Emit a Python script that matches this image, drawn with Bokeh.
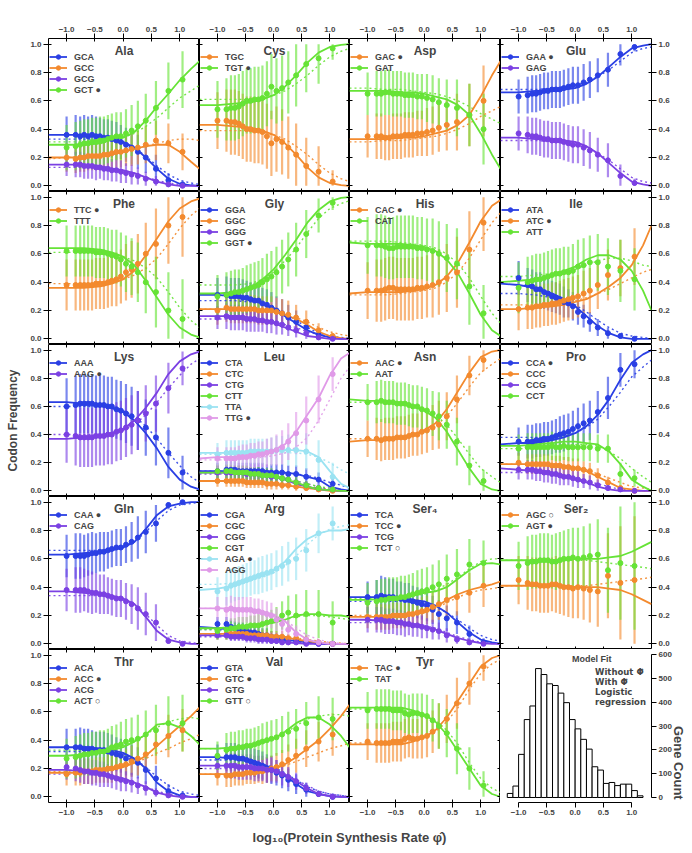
import math
from bokeh.plotting import figure
from bokeh.models import (Range1d, LinearAxis, FixedTicker, PrintfTickFormatter,
                          Legend, LegendItem, Label)
from bokeh.layouts import gridplot, column
from bokeh.embed import file_html
from bokeh.resources import INLINE

FONT = "Liberation Sans"
BLUE, ORANGE, PURPLE, GREEN = "#2a3fe4", "#f38a2e", "#7b40e3", "#66e336"
CYAN, PINK = "#9be3f2", "#e09ae8"

# ---------------- data ----------------
BIN_X = [-1.0, -0.84, -0.76, -0.69, -0.62, -0.55, -0.48, -0.41, -0.34, -0.27,
         -0.2, -0.12, -0.04, 0.05, 0.15, 0.26, 0.4, 0.58, 0.8, 1.05]
FIT_X = [-1.32, -1.0, -0.7, -0.4, -0.2, 0.0, 0.2, 0.4, 0.6, 0.8, 1.0, 1.2, 1.35]

X_TICKS = [-1.0, -0.5, 0.0, 0.5, 1.0]
X_TICK_LABELS = ["\u22121.0", "\u22120.5", "0.0", "0.5", "1.0"]
Y_TICKS = [0.0, 0.2, 0.4, 0.6, 0.8, 1.0]

# Ala
ALA_CODONS = ["GCA", "GCC", "GCG", "GCT \u25cf"]
ALA_FIT = [[0.36,0.36,0.36,0.35,0.33,0.31,0.27,0.2,0.12,0.05,0.015,0.004,0.0],
           [0.2,0.2,0.2,0.21,0.22,0.24,0.26,0.28,0.29,0.29,0.24,0.17,0.12],
           [0.15,0.15,0.15,0.14,0.12,0.11,0.09,0.06,0.03,0.01,0.0,0.0,0.0],
           [0.29,0.29,0.29,0.3,0.33,0.34,0.38,0.46,0.56,0.65,0.745,0.826,0.88]]
ALA_LOGIT = [[0.33,0.33,0.33,0.33,0.32,0.3,0.27,0.21,0.14,0.08,0.04,0.02,0.01],
             [0.19,0.2,0.21,0.22,0.23,0.24,0.26,0.28,0.3,0.32,0.33,0.33,0.32],
             [0.13,0.13,0.13,0.13,0.12,0.11,0.09,0.06,0.04,0.02,0.01,0.005,0.0],
             [0.31,0.31,0.31,0.32,0.33,0.34,0.37,0.42,0.48,0.55,0.62,0.67,0.71]]
ALA_PTS = [[0.36,0.36,0.35,0.36,0.35,0.36,0.35,0.35,0.34,0.34,0.33,0.32,0.31,0.29,0.27,0.24,0.2,0.12,0.04,0.01],
           [0.2,0.19,0.2,0.2,0.21,0.21,0.21,0.21,0.22,0.22,0.23,0.24,0.24,0.25,0.26,0.27,0.29,0.32,0.3,0.24],
           [0.15,0.15,0.15,0.14,0.14,0.14,0.13,0.13,0.12,0.12,0.11,0.11,0.1,0.09,0.08,0.07,0.05,0.03,0.01,0.0],
           [0.27,0.28,0.29,0.3,0.3,0.31,0.31,0.32,0.32,0.33,0.34,0.35,0.35,0.37,0.39,0.42,0.46,0.55,0.67,0.75]]
ALA_ERR = [[0.13,0.14,0.14,0.14,0.14,0.14,0.14,0.13,0.13,0.13,0.13,0.13,0.12,0.12,0.12,0.12,0.11,0.1,0.05,0.02],
           [0.1,0.1,0.1,0.1,0.1,0.1,0.1,0.1,0.1,0.1,0.11,0.11,0.11,0.11,0.12,0.12,0.13,0.14,0.14,0.13],
           [0.08,0.09,0.09,0.09,0.09,0.09,0.09,0.08,0.08,0.08,0.08,0.08,0.08,0.07,0.07,0.06,0.05,0.04,0.02,0.01],
           [0.16,0.17,0.17,0.17,0.17,0.17,0.17,0.17,0.17,0.17,0.17,0.17,0.17,0.17,0.18,0.18,0.19,0.19,0.2,0.2]]

# Cys
CYS_CODONS = ["TGC", "TGT \u25cf"]
CYS_FIT = [[0.43,0.43,0.42,0.41,0.39,0.36,0.3,0.22,0.13,0.06,0.02,0.005,0.0],
           [0.57,0.57,0.58,0.59,0.61,0.64,0.7,0.78,0.87,0.94,0.98,0.995,1.0]]
CYS_LOGIT = [[0.39,0.39,0.39,0.39,0.38,0.36,0.33,0.28,0.22,0.15,0.09,0.05,0.03],
             [0.61,0.61,0.61,0.61,0.62,0.64,0.67,0.72,0.78,0.85,0.91,0.95,0.97]]
CYS_PTS = [[0.46,0.46,0.45,0.45,0.44,0.42,0.4,0.4,0.39,0.39,0.38,0.35,0.3,0.33,0.31,0.27,0.22,0.14,0.1,0.03],
           [0.54,0.54,0.55,0.55,0.56,0.58,0.6,0.6,0.61,0.61,0.62,0.65,0.7,0.67,0.69,0.73,0.78,0.86,0.9,0.97]]
CYS_ERR = [[0.2,0.22,0.23,0.23,0.23,0.23,0.23,0.23,0.23,0.23,0.23,0.23,0.23,0.23,0.23,0.22,0.22,0.2,0.18,0.08]] * 2

# Asp
ASP_CODONS = ["GAC \u25cf", "GAT"]
ASP_FIT = [[0.33,0.33,0.33,0.34,0.34,0.35,0.37,0.39,0.43,0.5,0.63,0.78,0.88],
           [0.67,0.67,0.67,0.66,0.66,0.65,0.63,0.61,0.57,0.5,0.37,0.22,0.12]]
ASP_LOGIT = [[0.31,0.31,0.32,0.32,0.33,0.34,0.35,0.37,0.4,0.44,0.49,0.53,0.56],
             [0.69,0.69,0.68,0.68,0.67,0.66,0.65,0.63,0.6,0.56,0.51,0.47,0.44]]
ASP_PTS = [[0.35,0.35,0.35,0.34,0.34,0.35,0.35,0.35,0.36,0.36,0.36,0.37,0.37,0.38,0.39,0.41,0.43,0.45,0.5,0.6],
           [0.65,0.65,0.65,0.66,0.66,0.65,0.65,0.65,0.64,0.64,0.64,0.63,0.63,0.62,0.61,0.59,0.57,0.55,0.5,0.4]]
ASP_ERR = [[0.15,0.16,0.16,0.16,0.16,0.16,0.16,0.16,0.16,0.16,0.16,0.16,0.16,0.17,0.17,0.17,0.18,0.2,0.22,0.25]] * 2

# Glu
GLU_CODONS = ["GAA \u25cf", "GAG"]
GLU_FIT = [[0.66,0.66,0.67,0.67,0.68,0.69,0.72,0.77,0.84,0.91,0.97,0.99,1.0],
           [0.34,0.34,0.33,0.33,0.32,0.31,0.28,0.23,0.16,0.09,0.03,0.01,0.0]]
GLU_LOGIT = [[0.68,0.68,0.68,0.69,0.7,0.71,0.73,0.77,0.82,0.88,0.94,0.97,0.98],
             [0.32,0.32,0.32,0.31,0.3,0.29,0.27,0.23,0.18,0.12,0.06,0.03,0.02]]
GLU_PTS = [[0.63,0.64,0.65,0.65,0.66,0.67,0.67,0.68,0.68,0.68,0.69,0.7,0.71,0.71,0.73,0.75,0.78,0.82,0.93,0.98],
           [0.37,0.36,0.35,0.35,0.34,0.33,0.33,0.32,0.32,0.32,0.31,0.3,0.29,0.29,0.27,0.25,0.22,0.18,0.07,0.02]]
GLU_ERR = [[0.12,0.13,0.13,0.13,0.13,0.13,0.13,0.13,0.13,0.13,0.13,0.13,0.13,0.13,0.13,0.13,0.12,0.12,0.08,0.03]] * 2

# Phe
PHE_CODONS = ["TTC \u25cf", "TTT"]
PHE_FIT = [[0.36,0.36,0.36,0.37,0.39,0.42,0.48,0.59,0.71,0.83,0.92,0.97,0.99],
           [0.64,0.64,0.64,0.63,0.61,0.58,0.52,0.41,0.29,0.17,0.08,0.03,0.01]]
PHE_LOGIT = [[0.39,0.39,0.39,0.39,0.4,0.42,0.45,0.5,0.57,0.67,0.78,0.87,0.92],
             [0.61,0.61,0.61,0.61,0.6,0.58,0.55,0.5,0.43,0.33,0.22,0.13,0.08]]
PHE_PTS = [[0.38,0.38,0.38,0.38,0.38,0.38,0.39,0.39,0.39,0.4,0.41,0.42,0.44,0.47,0.49,0.53,0.6,0.67,0.8,0.86],
           [0.62,0.62,0.62,0.62,0.62,0.62,0.61,0.61,0.61,0.6,0.59,0.58,0.56,0.53,0.51,0.47,0.4,0.33,0.2,0.14]]
PHE_ERR = [[0.18,0.18,0.18,0.18,0.18,0.18,0.18,0.18,0.18,0.18,0.18,0.19,0.19,0.2,0.2,0.21,0.22,0.25,0.27,0.28]] * 2

# Gly
GLY_CODONS = ["GGA", "GGC", "GGG", "GGT \u25cf"]
GLY_FIT = [[0.31,0.31,0.3,0.28,0.25,0.21,0.16,0.11,0.06,0.03,0.01,0.0,0.0],
           [0.21,0.21,0.21,0.21,0.2,0.19,0.17,0.14,0.1,0.05,0.02,0.005,0.0],
           [0.16,0.16,0.16,0.15,0.13,0.11,0.08,0.05,0.02,0.01,0.0,0.0,0.0],
           [0.32,0.32,0.33,0.36,0.42,0.49,0.59,0.7,0.82,0.91,0.97,0.995,1.0]]
GLY_LOGIT = [[0.27,0.27,0.27,0.26,0.25,0.22,0.18,0.13,0.08,0.04,0.02,0.01,0.005],
             [0.21,0.21,0.21,0.21,0.2,0.19,0.17,0.15,0.12,0.08,0.05,0.03,0.02],
             [0.14,0.14,0.14,0.14,0.13,0.12,0.1,0.08,0.05,0.03,0.01,0.005,0.0],
             [0.38,0.38,0.38,0.39,0.42,0.47,0.55,0.64,0.75,0.85,0.92,0.955,0.975]]
GLY_PTS = [[0.31,0.31,0.3,0.3,0.3,0.29,0.29,0.28,0.27,0.27,0.25,0.24,0.22,0.2,0.18,0.15,0.12,0.08,0.03,0.01],
           [0.2,0.22,0.21,0.21,0.21,0.21,0.21,0.21,0.21,0.2,0.2,0.2,0.2,0.19,0.18,0.17,0.15,0.12,0.06,0.02],
           [0.15,0.16,0.15,0.15,0.15,0.15,0.14,0.14,0.14,0.13,0.13,0.12,0.12,0.11,0.1,0.08,0.06,0.04,0.01,0.0],
           [0.3,0.31,0.32,0.33,0.33,0.34,0.35,0.36,0.37,0.38,0.4,0.42,0.44,0.47,0.51,0.56,0.63,0.74,0.87,0.96]]
GLY_ERR = [[0.12,0.13,0.13,0.13,0.13,0.13,0.12,0.12,0.12,0.12,0.11,0.11,0.11,0.1,0.1,0.09,0.08,0.06,0.03,0.01],
           [0.1,0.1,0.1,0.1,0.1,0.1,0.1,0.1,0.1,0.1,0.1,0.1,0.1,0.1,0.1,0.1,0.09,0.08,0.05,0.02],
           [0.08,0.09,0.09,0.09,0.09,0.09,0.09,0.09,0.09,0.08,0.08,0.08,0.08,0.08,0.07,0.06,0.05,0.04,0.02,0.01],
           [0.15,0.16,0.16,0.16,0.16,0.16,0.17,0.17,0.17,0.17,0.17,0.18,0.18,0.18,0.19,0.19,0.19,0.17,0.12,0.05]]

# His
HIS_CODONS = ["CAC \u25cf", "CAT"]
HIS_FIT = [[0.32,0.33,0.33,0.33,0.34,0.35,0.38,0.44,0.54,0.68,0.83,0.94,0.98],
           [0.68,0.67,0.67,0.67,0.66,0.65,0.62,0.56,0.46,0.32,0.17,0.06,0.02]]
HIS_LOGIT = [[0.31,0.31,0.31,0.32,0.33,0.34,0.36,0.4,0.47,0.57,0.7,0.82,0.89],
             [0.69,0.69,0.69,0.68,0.67,0.66,0.64,0.6,0.53,0.43,0.3,0.18,0.11]]
HIS_PTS = [[0.34,0.34,0.34,0.35,0.36,0.36,0.35,0.35,0.35,0.35,0.35,0.36,0.36,0.37,0.38,0.4,0.43,0.47,0.63,0.82],
           [0.66,0.66,0.66,0.65,0.64,0.64,0.65,0.65,0.65,0.65,0.65,0.64,0.64,0.63,0.62,0.6,0.57,0.53,0.37,0.18]]
HIS_ERR = [[0.2,0.22,0.22,0.22,0.22,0.22,0.22,0.22,0.22,0.22,0.22,0.22,0.22,0.22,0.23,0.23,0.24,0.25,0.27,0.2]] * 2

# Ile
ILE_CODONS = ["ATA", "ATC \u25cf", "ATT"]
ILE_FIT = [[0.39,0.38,0.36,0.32,0.28,0.23,0.16,0.09,0.04,0.01,0.0,0.0,0.0],
           [0.21,0.21,0.22,0.23,0.24,0.26,0.28,0.32,0.37,0.43,0.52,0.66,0.8],
           [0.4,0.41,0.42,0.45,0.48,0.51,0.56,0.59,0.59,0.56,0.48,0.34,0.2]]
ILE_LOGIT = [[0.32,0.32,0.31,0.29,0.27,0.24,0.19,0.13,0.08,0.04,0.02,0.01,0.0],
             [0.24,0.24,0.24,0.25,0.26,0.27,0.29,0.32,0.35,0.39,0.43,0.47,0.49],
             [0.44,0.44,0.45,0.46,0.47,0.49,0.52,0.55,0.57,0.57,0.55,0.52,0.51]]
ILE_PTS = [[0.43,0.38,0.37,0.35,0.35,0.33,0.32,0.3,0.29,0.28,0.26,0.25,0.23,0.19,0.16,0.12,0.08,0.04,0.02,0.0],
           [0.21,0.22,0.22,0.23,0.23,0.24,0.24,0.25,0.25,0.26,0.27,0.28,0.29,0.3,0.32,0.34,0.38,0.45,0.5,0.58],
           [0.36,0.4,0.41,0.42,0.42,0.43,0.44,0.45,0.46,0.46,0.47,0.47,0.48,0.51,0.52,0.54,0.54,0.51,0.48,0.42]]
ILE_ERR = [[0.12,0.12,0.12,0.12,0.12,0.12,0.12,0.11,0.11,0.11,0.11,0.1,0.1,0.09,0.08,0.07,0.06,0.04,0.02,0.01],
           [0.15,0.15,0.15,0.15,0.15,0.15,0.15,0.15,0.15,0.15,0.15,0.15,0.15,0.15,0.16,0.16,0.17,0.18,0.2,0.2],
           [0.18,0.18,0.18,0.18,0.18,0.18,0.18,0.18,0.18,0.18,0.18,0.18,0.19,0.19,0.19,0.19,0.2,0.2,0.22,0.22]]

# Lys
LYS_CODONS = ["AAA", "AAG \u25cf"]
LYS_FIT = [[0.63,0.63,0.62,0.61,0.59,0.56,0.5,0.41,0.3,0.17,0.08,0.03,0.01],
           [0.37,0.37,0.38,0.39,0.41,0.44,0.5,0.59,0.7,0.83,0.92,0.97,0.99]]
LYS_LOGIT = [[0.6,0.6,0.6,0.6,0.59,0.57,0.53,0.46,0.37,0.27,0.18,0.1,0.06],
             [0.4,0.4,0.4,0.4,0.41,0.43,0.47,0.54,0.63,0.73,0.82,0.9,0.94]]
LYS_PTS = [[0.6,0.61,0.62,0.62,0.62,0.62,0.61,0.61,0.61,0.6,0.6,0.58,0.57,0.55,0.53,0.5,0.45,0.38,0.27,0.13],
           [0.4,0.39,0.38,0.38,0.38,0.38,0.39,0.39,0.39,0.4,0.4,0.42,0.43,0.45,0.47,0.5,0.55,0.62,0.73,0.87]]
LYS_ERR = [[0.2,0.21,0.21,0.21,0.21,0.21,0.21,0.21,0.21,0.21,0.21,0.21,0.21,0.21,0.21,0.21,0.2,0.2,0.18,0.12]] * 2

# Leu
LEU_CODONS = ["CTA", "CTC", "CTG", "CTT", "TTA", "TTG \u25cf"]
LEU_FIT = [[0.14,0.14,0.14,0.14,0.14,0.13,0.13,0.12,0.1,0.08,0.03,0.01,0.0],
           [0.07,0.07,0.07,0.06,0.06,0.05,0.04,0.03,0.02,0.01,0.0,0.0,0.0],
           [0.13,0.13,0.13,0.12,0.11,0.1,0.08,0.05,0.03,0.01,0.005,0.0,0.0],
           [0.13,0.13,0.13,0.12,0.11,0.1,0.08,0.06,0.03,0.01,0.005,0.0,0.0],
           [0.27,0.27,0.27,0.28,0.28,0.28,0.29,0.29,0.28,0.24,0.14,0.05,0.02],
           [0.23,0.24,0.24,0.25,0.27,0.29,0.33,0.42,0.54,0.66,0.82,0.94,0.98]]
LEU_LOGIT = [[0.14,0.14,0.14,0.14,0.14,0.14,0.13,0.12,0.11,0.09,0.06,0.04,0.02],
             [0.07,0.07,0.07,0.07,0.06,0.06,0.05,0.04,0.03,0.02,0.01,0.005,0.0],
             [0.12,0.12,0.12,0.12,0.11,0.1,0.09,0.07,0.05,0.03,0.01,0.005,0.0],
             [0.13,0.13,0.13,0.12,0.12,0.11,0.09,0.07,0.05,0.03,0.02,0.01,0.005],
             [0.26,0.26,0.26,0.27,0.27,0.27,0.27,0.27,0.26,0.24,0.2,0.15,0.12],
             [0.22,0.22,0.22,0.23,0.24,0.25,0.27,0.31,0.38,0.5,0.65,0.8,0.88]]
LEU_PTS = [[0.14,0.15,0.15,0.15,0.14,0.14,0.14,0.14,0.14,0.14,0.14,0.13,0.13,0.13,0.13,0.12,0.12,0.1,0.08,0.05],
           [0.07,0.07,0.07,0.07,0.07,0.07,0.06,0.06,0.06,0.06,0.06,0.05,0.05,0.05,0.04,0.04,0.03,0.02,0.01,0.0],
           [0.13,0.13,0.13,0.13,0.13,0.13,0.12,0.12,0.12,0.12,0.11,0.11,0.1,0.1,0.09,0.08,0.06,0.04,0.02,0.01],
           [0.14,0.14,0.14,0.13,0.13,0.13,0.13,0.12,0.12,0.12,0.11,0.11,0.11,0.1,0.09,0.08,0.06,0.04,0.02,0.01],
           [0.26,0.27,0.27,0.27,0.27,0.27,0.27,0.28,0.28,0.28,0.28,0.28,0.28,0.29,0.29,0.29,0.29,0.28,0.22,0.1],
           [0.23,0.23,0.23,0.23,0.24,0.24,0.24,0.25,0.25,0.26,0.26,0.27,0.28,0.29,0.31,0.35,0.41,0.5,0.65,0.83]]
LEU_ERR = [[0.06,0.06,0.06,0.06,0.06,0.06,0.06,0.06,0.06,0.06,0.06,0.06,0.06,0.06,0.06,0.06,0.06,0.06,0.05,0.04],
           [0.04,0.04,0.04,0.04,0.04,0.04,0.04,0.04,0.04,0.04,0.04,0.04,0.04,0.04,0.03,0.03,0.03,0.02,0.01,0.01],
           [0.05,0.05,0.05,0.05,0.05,0.05,0.05,0.05,0.05,0.05,0.05,0.05,0.05,0.05,0.05,0.04,0.04,0.03,0.02,0.01],
           [0.05,0.05,0.05,0.05,0.05,0.05,0.05,0.05,0.05,0.05,0.05,0.05,0.05,0.05,0.05,0.04,0.04,0.03,0.02,0.01],
           [0.08,0.09,0.09,0.09,0.09,0.09,0.09,0.09,0.09,0.09,0.09,0.09,0.1,0.1,0.1,0.11,0.12,0.13,0.14,0.1],
           [0.08,0.08,0.08,0.08,0.08,0.09,0.09,0.09,0.09,0.09,0.09,0.1,0.1,0.11,0.12,0.13,0.15,0.17,0.17,0.12]]

# Asn
ASN_CODONS = ["AAC \u25cf", "AAT"]
ASN_FIT = [[0.35,0.36,0.36,0.38,0.4,0.43,0.48,0.58,0.71,0.84,0.95,0.99,1.0],
           [0.65,0.64,0.64,0.62,0.6,0.57,0.52,0.42,0.29,0.16,0.05,0.01,0.0]]
ASN_LOGIT = [[0.37,0.37,0.37,0.38,0.4,0.42,0.46,0.53,0.63,0.74,0.84,0.9,0.94],
             [0.63,0.63,0.63,0.62,0.6,0.58,0.54,0.47,0.37,0.26,0.16,0.1,0.06]]
ASN_PTS = [[0.37,0.37,0.36,0.37,0.37,0.37,0.38,0.38,0.38,0.39,0.4,0.4,0.42,0.43,0.45,0.47,0.53,0.65,0.82,0.93],
           [0.63,0.63,0.64,0.63,0.63,0.63,0.62,0.62,0.62,0.61,0.6,0.6,0.58,0.57,0.55,0.53,0.47,0.35,0.18,0.07]]
ASN_ERR = [[0.13,0.15,0.15,0.15,0.15,0.15,0.15,0.15,0.15,0.15,0.15,0.15,0.16,0.16,0.16,0.17,0.17,0.17,0.14,0.08]] * 2

# Pro
PRO_CODONS = ["CCA \u25cf", "CCC", "CCG", "CCT"]
PRO_FIT = [[0.33,0.34,0.34,0.36,0.38,0.41,0.46,0.54,0.65,0.79,0.91,0.97,1.0],
           [0.19,0.19,0.19,0.18,0.17,0.16,0.14,0.1,0.06,0.02,0.01,0.0,0.0],
           [0.16,0.15,0.14,0.12,0.1,0.08,0.06,0.03,0.01,0.0,0.0,0.0,0.0],
           [0.32,0.32,0.33,0.34,0.35,0.35,0.34,0.33,0.28,0.19,0.08,0.03,0.0]]
PRO_LOGIT = [[0.38,0.38,0.38,0.38,0.39,0.41,0.45,0.51,0.6,0.7,0.81,0.88,0.93],
             [0.19,0.19,0.19,0.19,0.18,0.17,0.15,0.12,0.09,0.06,0.03,0.02,0.01],
             [0.13,0.13,0.13,0.12,0.11,0.09,0.07,0.05,0.03,0.01,0.005,0.0,0.0],
             [0.3,0.3,0.3,0.31,0.32,0.33,0.33,0.32,0.28,0.23,0.16,0.1,0.06]]
PRO_PTS = [[0.35,0.35,0.35,0.36,0.36,0.37,0.37,0.38,0.39,0.4,0.41,0.42,0.44,0.46,0.48,0.5,0.56,0.66,0.86,0.9],
           [0.2,0.19,0.19,0.19,0.19,0.19,0.19,0.18,0.18,0.18,0.17,0.17,0.16,0.16,0.15,0.14,0.11,0.06,0.02,0.0],
           [0.15,0.15,0.15,0.14,0.14,0.13,0.13,0.12,0.12,0.11,0.1,0.1,0.09,0.08,0.07,0.06,0.04,0.02,0.01,0.0],
           [0.3,0.31,0.31,0.31,0.31,0.31,0.31,0.32,0.31,0.31,0.32,0.31,0.31,0.31,0.31,0.31,0.3,0.3,0.12,0.09]]
PRO_ERR = [[0.1,0.12,0.12,0.12,0.12,0.12,0.12,0.12,0.12,0.13,0.13,0.13,0.13,0.13,0.14,0.14,0.15,0.15,0.12,0.1],
           [0.07,0.07,0.07,0.07,0.07,0.07,0.07,0.07,0.07,0.07,0.07,0.07,0.07,0.07,0.06,0.06,0.05,0.04,0.02,0.01],
           [0.07,0.07,0.07,0.07,0.07,0.07,0.07,0.07,0.07,0.07,0.06,0.06,0.06,0.06,0.05,0.05,0.04,0.03,0.01,0.01],
           [0.1,0.1,0.1,0.1,0.1,0.1,0.1,0.1,0.1,0.1,0.1,0.1,0.1,0.1,0.1,0.1,0.1,0.1,0.08,0.06]]

# Gln
GLN_CODONS = ["CAA \u25cf", "CAG"]
GLN_FIT = [[0.63,0.63,0.64,0.65,0.66,0.68,0.72,0.81,0.91,0.97,0.99,1.0,1.0],
           [0.37,0.37,0.36,0.35,0.34,0.32,0.28,0.19,0.09,0.03,0.01,0.0,0.0]]
GLN_LOGIT = [[0.66,0.66,0.66,0.66,0.67,0.69,0.72,0.79,0.87,0.94,0.98,0.99,1.0],
             [0.34,0.34,0.34,0.34,0.33,0.31,0.28,0.21,0.13,0.06,0.02,0.01,0.0]]
GLN_PTS = [[0.62,0.62,0.62,0.62,0.63,0.64,0.64,0.65,0.65,0.66,0.67,0.68,0.68,0.7,0.72,0.75,0.79,0.85,0.98,1.0],
           [0.38,0.38,0.38,0.38,0.37,0.36,0.36,0.35,0.35,0.34,0.33,0.32,0.32,0.3,0.28,0.25,0.21,0.15,0.02,0.0]]
GLN_ERR = [[0.15,0.16,0.16,0.15,0.15,0.15,0.14,0.14,0.14,0.13,0.13,0.13,0.13,0.13,0.14,0.15,0.15,0.13,0.03,0.01]] * 2

# Arg
ARG_CODONS = ["CGA", "CGC", "CGG", "CGT", "AGA \u25cf", "AGG"]
ARG_FIT = [[0.12,0.11,0.1,0.08,0.06,0.05,0.03,0.02,0.01,0.0,0.0,0.0,0.0],
           [0.07,0.07,0.07,0.07,0.06,0.06,0.05,0.03,0.02,0.01,0.0,0.0,0.0],
           [0.06,0.06,0.05,0.04,0.03,0.02,0.01,0.005,0.0,0.0,0.0,0.0,0.0],
           [0.11,0.11,0.12,0.13,0.14,0.15,0.17,0.2,0.21,0.21,0.2,0.2,0.19],
           [0.38,0.39,0.41,0.45,0.49,0.52,0.58,0.67,0.74,0.78,0.8,0.8,0.81],
           [0.25,0.25,0.25,0.24,0.22,0.2,0.16,0.08,0.03,0.01,0.0,0.0,0.0]]
ARG_LOGIT = [[0.1,0.1,0.09,0.08,0.07,0.06,0.04,0.03,0.02,0.01,0.005,0.0,0.0],
             [0.07,0.07,0.07,0.07,0.06,0.06,0.05,0.04,0.03,0.02,0.01,0.005,0.0],
             [0.05,0.05,0.05,0.04,0.03,0.03,0.02,0.01,0.005,0.0,0.0,0.0,0.0],
             [0.1,0.1,0.11,0.12,0.13,0.15,0.17,0.19,0.2,0.2,0.19,0.18,0.17],
             [0.42,0.42,0.43,0.45,0.47,0.5,0.55,0.62,0.7,0.77,0.81,0.83,0.84],
             [0.25,0.25,0.25,0.24,0.23,0.21,0.17,0.11,0.06,0.03,0.01,0.005,0.0]]
ARG_PTS = [[0.14,0.14,0.12,0.11,0.1,0.1,0.09,0.08,0.08,0.07,0.06,0.06,0.05,0.04,0.03,0.02,0.02,0.01,0.0,0.0],
           [0.07,0.07,0.07,0.07,0.07,0.07,0.07,0.06,0.06,0.06,0.06,0.06,0.05,0.05,0.05,0.04,0.04,0.03,0.01,0.0],
           [0.06,0.06,0.05,0.05,0.05,0.05,0.04,0.04,0.04,0.03,0.03,0.03,0.02,0.02,0.01,0.01,0.01,0.0,0.0,0.0],
           [0.09,0.1,0.11,0.11,0.12,0.12,0.12,0.13,0.13,0.13,0.14,0.15,0.16,0.17,0.2,0.22,0.2,0.21,0.21,0.15],
           [0.37,0.39,0.41,0.42,0.43,0.44,0.45,0.46,0.47,0.48,0.49,0.5,0.51,0.53,0.55,0.58,0.6,0.66,0.78,0.85],
           [0.25,0.24,0.25,0.24,0.24,0.24,0.24,0.24,0.23,0.23,0.22,0.21,0.2,0.17,0.14,0.1,0.07,0.03,0.01,0.0]]
ARG_ERR = [[0.05,0.05,0.05,0.05,0.05,0.05,0.05,0.05,0.05,0.05,0.05,0.05,0.04,0.04,0.04,0.03,0.03,0.02,0.01,0.01],
           [0.04,0.04,0.04,0.04,0.04,0.04,0.04,0.04,0.04,0.04,0.04,0.04,0.04,0.04,0.04,0.03,0.03,0.03,0.01,0.01],
           [0.03,0.03,0.03,0.03,0.03,0.03,0.03,0.03,0.03,0.03,0.03,0.03,0.03,0.02,0.02,0.02,0.01,0.01,0.0,0.0],
           [0.06,0.07,0.07,0.07,0.07,0.07,0.07,0.07,0.07,0.08,0.08,0.08,0.08,0.09,0.1,0.12,0.15,0.17,0.17,0.15],
           [0.1,0.12,0.12,0.12,0.12,0.12,0.12,0.12,0.12,0.13,0.13,0.13,0.13,0.13,0.14,0.14,0.15,0.15,0.14,0.12],
           [0.08,0.09,0.09,0.09,0.09,0.09,0.09,0.09,0.09,0.09,0.09,0.09,0.09,0.08,0.08,0.07,0.06,0.04,0.02,0.01]]

# Ser4
SER4_CODONS = ["TCA", "TCC \u25cf", "TCG", "TCT \u25cb"]
SER4_FIT = [[0.33,0.33,0.33,0.32,0.31,0.3,0.27,0.22,0.15,0.08,0.03,0.01,0.0],
            [0.19,0.19,0.19,0.2,0.21,0.22,0.26,0.31,0.35,0.38,0.4,0.42,0.44],
            [0.17,0.17,0.16,0.15,0.14,0.12,0.1,0.07,0.04,0.02,0.005,0.0,0.0],
            [0.31,0.31,0.32,0.33,0.34,0.36,0.37,0.4,0.46,0.52,0.565,0.57,0.56]]
SER4_LOGIT = [[0.3,0.3,0.3,0.3,0.29,0.28,0.26,0.22,0.17,0.11,0.06,0.03,0.02],
              [0.2,0.2,0.2,0.21,0.22,0.23,0.25,0.29,0.33,0.36,0.38,0.39,0.4],
              [0.15,0.15,0.15,0.15,0.14,0.13,0.11,0.08,0.05,0.03,0.01,0.005,0.0],
              [0.32,0.32,0.32,0.33,0.34,0.35,0.38,0.42,0.47,0.53,0.58,0.6,0.6]]
SER4_PTS = [[0.33,0.33,0.34,0.33,0.33,0.33,0.32,0.32,0.31,0.31,0.3,0.29,0.28,0.27,0.24,0.21,0.18,0.15,0.07,0.01],
            [0.19,0.19,0.19,0.19,0.19,0.2,0.2,0.2,0.2,0.21,0.21,0.22,0.23,0.24,0.26,0.28,0.31,0.33,0.36,0.41],
            [0.17,0.17,0.17,0.16,0.16,0.16,0.15,0.15,0.14,0.14,0.13,0.13,0.12,0.11,0.1,0.09,0.06,0.03,0.01,0.0],
            [0.29,0.3,0.31,0.31,0.32,0.32,0.32,0.33,0.33,0.34,0.35,0.36,0.37,0.38,0.4,0.42,0.46,0.49,0.56,0.57]]
SER4_ERR = [[0.11,0.12,0.14,0.14,0.13,0.13,0.12,0.12,0.12,0.12,0.11,0.11,0.11,0.11,0.1,0.1,0.09,0.08,0.06,0.03],
            [0.08,0.09,0.09,0.09,0.09,0.09,0.09,0.09,0.09,0.09,0.1,0.1,0.1,0.1,0.11,0.11,0.12,0.13,0.14,0.15],
            [0.09,0.09,0.09,0.09,0.09,0.09,0.09,0.09,0.09,0.08,0.08,0.08,0.08,0.07,0.07,0.06,0.05,0.03,0.02,0.01],
            [0.14,0.15,0.15,0.15,0.15,0.15,0.15,0.15,0.15,0.15,0.15,0.16,0.16,0.16,0.16,0.17,0.17,0.18,0.18,0.16]]

# Ser2
SER2_CODONS = ["AGC \u25cb", "AGT \u25cf"]
SER2_FIT = [[0.41,0.41,0.41,0.41,0.41,0.4,0.4,0.4,0.39,0.38,0.35,0.31,0.28],
            [0.59,0.59,0.59,0.59,0.59,0.6,0.6,0.6,0.61,0.62,0.65,0.69,0.72]]
SER2_LOGIT = [[0.41,0.41,0.41,0.41,0.41,0.41,0.41,0.42,0.43,0.44,0.45,0.46,0.47],
              [0.59,0.59,0.59,0.59,0.59,0.59,0.59,0.58,0.57,0.56,0.55,0.54,0.53]]
SER2_PTS = [[0.45,0.43,0.42,0.42,0.41,0.41,0.41,0.42,0.42,0.41,0.4,0.4,0.39,0.4,0.39,0.38,0.37,0.48,0.43,0.45],
            [0.55,0.57,0.58,0.58,0.59,0.59,0.59,0.58,0.58,0.59,0.6,0.6,0.61,0.6,0.61,0.62,0.63,0.52,0.57,0.55]]
SER2_ERR = [[0.17,0.19,0.19,0.19,0.19,0.19,0.19,0.19,0.2,0.2,0.2,0.21,0.21,0.22,0.22,0.23,0.25,0.3,0.4,0.45]] * 2

# Thr
THR_CODONS = ["ACA", "ACC \u25cf", "ACG", "ACT \u25cb"]
THR_FIT = [[0.35,0.35,0.35,0.34,0.33,0.31,0.27,0.2,0.1,0.04,0.01,0.0,0.0],
           [0.17,0.17,0.17,0.18,0.19,0.21,0.24,0.29,0.36,0.43,0.5,0.57,0.63],
           [0.19,0.19,0.18,0.17,0.15,0.13,0.1,0.07,0.03,0.01,0.0,0.0,0.0],
           [0.29,0.29,0.3,0.31,0.33,0.35,0.39,0.44,0.51,0.52,0.49,0.43,0.37]]
THR_LOGIT = [[0.32,0.32,0.32,0.32,0.31,0.3,0.27,0.21,0.14,0.08,0.04,0.02,0.01],
             [0.18,0.18,0.18,0.19,0.2,0.22,0.24,0.27,0.31,0.34,0.38,0.41,0.44],
             [0.16,0.16,0.16,0.15,0.14,0.13,0.1,0.07,0.04,0.02,0.01,0.0,0.0],
             [0.33,0.33,0.33,0.33,0.34,0.36,0.39,0.44,0.49,0.53,0.55,0.56,0.55]]
THR_PTS = [[0.35,0.35,0.35,0.34,0.34,0.34,0.33,0.33,0.33,0.32,0.31,0.3,0.29,0.27,0.26,0.24,0.19,0.13,0.04,0.01],
           [0.16,0.17,0.17,0.18,0.18,0.18,0.19,0.19,0.19,0.2,0.2,0.21,0.22,0.23,0.25,0.27,0.3,0.37,0.43,0.47],
           [0.21,0.2,0.19,0.18,0.18,0.17,0.17,0.16,0.16,0.15,0.14,0.13,0.12,0.11,0.1,0.08,0.06,0.03,0.01,0.0],
           [0.27,0.28,0.29,0.3,0.3,0.31,0.31,0.32,0.32,0.33,0.35,0.36,0.37,0.39,0.4,0.41,0.44,0.47,0.52,0.52]]
THR_ERR = [[0.13,0.13,0.14,0.14,0.14,0.13,0.13,0.13,0.13,0.13,0.13,0.12,0.12,0.12,0.11,0.11,0.1,0.09,0.05,0.02],
           [0.08,0.09,0.09,0.09,0.09,0.09,0.09,0.09,0.09,0.1,0.1,0.1,0.1,0.11,0.11,0.12,0.13,0.14,0.15,0.15],
           [0.09,0.09,0.09,0.09,0.09,0.09,0.09,0.09,0.09,0.08,0.08,0.08,0.08,0.07,0.07,0.06,0.05,0.03,0.01,0.01],
           [0.14,0.15,0.15,0.15,0.15,0.15,0.15,0.15,0.15,0.15,0.15,0.15,0.16,0.16,0.16,0.17,0.17,0.18,0.19,0.2]]

# Val
VAL_CODONS = ["GTA", "GTC \u25cf", "GTG", "GTT \u25cb"]
VAL_FIT = [[0.28,0.28,0.27,0.26,0.23,0.2,0.15,0.09,0.04,0.02,0.005,0.0,0.0],
           [0.16,0.16,0.16,0.17,0.18,0.2,0.23,0.28,0.34,0.4,0.48,0.57,0.65],
           [0.22,0.22,0.22,0.21,0.2,0.19,0.16,0.11,0.06,0.02,0.005,0.0,0.0],
           [0.34,0.34,0.35,0.36,0.39,0.41,0.46,0.52,0.56,0.56,0.51,0.43,0.35]]
VAL_LOGIT = [[0.26,0.26,0.26,0.25,0.23,0.21,0.17,0.12,0.07,0.04,0.02,0.01,0.0],
             [0.16,0.16,0.16,0.17,0.18,0.2,0.22,0.25,0.28,0.31,0.34,0.36,0.38],
             [0.2,0.2,0.2,0.2,0.19,0.18,0.16,0.12,0.08,0.04,0.02,0.01,0.0],
             [0.34,0.34,0.35,0.36,0.38,0.41,0.45,0.5,0.55,0.57,0.58,0.58,0.57]]
VAL_PTS = [[0.28,0.28,0.28,0.28,0.27,0.27,0.26,0.25,0.24,0.23,0.22,0.2,0.19,0.17,0.15,0.12,0.09,0.05,0.02,0.0],
           [0.15,0.15,0.15,0.16,0.16,0.16,0.17,0.17,0.17,0.18,0.18,0.19,0.2,0.21,0.23,0.26,0.29,0.34,0.39,0.44],
           [0.22,0.22,0.22,0.22,0.21,0.21,0.21,0.21,0.2,0.2,0.2,0.19,0.19,0.18,0.16,0.14,0.11,0.06,0.02,0.0],
           [0.29,0.33,0.34,0.34,0.35,0.35,0.36,0.36,0.37,0.38,0.39,0.4,0.41,0.42,0.44,0.46,0.48,0.52,0.56,0.55]]
VAL_ERR = [[0.09,0.1,0.1,0.1,0.1,0.1,0.1,0.1,0.1,0.1,0.1,0.1,0.1,0.09,0.09,0.08,0.07,0.05,0.02,0.01],
           [0.07,0.08,0.08,0.08,0.08,0.08,0.08,0.08,0.08,0.08,0.09,0.09,0.09,0.1,0.1,0.11,0.12,0.13,0.14,0.15],
           [0.08,0.09,0.09,0.09,0.09,0.09,0.09,0.09,0.09,0.09,0.09,0.09,0.09,0.08,0.08,0.07,0.06,0.04,0.02,0.01],
           [0.1,0.12,0.12,0.12,0.12,0.12,0.12,0.12,0.12,0.12,0.13,0.13,0.13,0.13,0.13,0.14,0.14,0.15,0.15,0.15]]

# Tyr
TYR_CODONS = ["TAC \u25cf", "TAT"]
TYR_FIT = [[0.37,0.37,0.37,0.37,0.39,0.42,0.47,0.56,0.68,0.8,0.92,0.98,1.0],
           [0.63,0.63,0.63,0.63,0.61,0.58,0.53,0.44,0.32,0.2,0.08,0.02,0.0]]
TYR_LOGIT = [[0.38,0.38,0.38,0.39,0.4,0.42,0.46,0.53,0.63,0.76,0.87,0.94,0.97],
             [0.62,0.62,0.62,0.61,0.6,0.58,0.54,0.47,0.37,0.24,0.13,0.06,0.03]]
TYR_PTS = [[0.39,0.38,0.38,0.38,0.38,0.39,0.39,0.39,0.41,0.42,0.41,0.41,0.42,0.43,0.46,0.5,0.55,0.66,0.8,0.92],
           [0.61,0.62,0.62,0.62,0.62,0.61,0.61,0.61,0.59,0.58,0.59,0.59,0.58,0.57,0.54,0.5,0.45,0.34,0.2,0.08]]
TYR_ERR = [[0.13,0.14,0.14,0.14,0.14,0.14,0.14,0.14,0.14,0.14,0.14,0.14,0.15,0.15,0.15,0.16,0.17,0.18,0.15,0.1]] * 2

# Histogram of gene counts
HIST_EDGES = [-1.2, -1.1, -1.0, -0.9, -0.8, -0.7, -0.6, -0.5, -0.4, -0.3, -0.2, -0.1, 0.0,
              0.1, 0.2, 0.3, 0.4, 0.5, 0.6, 0.7, 0.8, 0.9, 1.0, 1.1, 1.2]
HIST_COUNTS = [17, 48, 181, 327, 384, 541, 516, 477, 470, 438, 398, 327, 288, 244,
               203, 129, 115, 59, 63, 50, 56, 56, 29, 7]
HIST_TICKS = [0, 100, 200, 300, 400, 500, 600]

PANEL_GRID = [
    [("Ala", ALA_CODONS, ALA_FIT, ALA_LOGIT, ALA_PTS, ALA_ERR),
     ("Cys", CYS_CODONS, CYS_FIT, CYS_LOGIT, CYS_PTS, CYS_ERR),
     ("Asp", ASP_CODONS, ASP_FIT, ASP_LOGIT, ASP_PTS, ASP_ERR),
     ("Glu", GLU_CODONS, GLU_FIT, GLU_LOGIT, GLU_PTS, GLU_ERR)],
    [("Phe", PHE_CODONS, PHE_FIT, PHE_LOGIT, PHE_PTS, PHE_ERR),
     ("Gly", GLY_CODONS, GLY_FIT, GLY_LOGIT, GLY_PTS, GLY_ERR),
     ("His", HIS_CODONS, HIS_FIT, HIS_LOGIT, HIS_PTS, HIS_ERR),
     ("Ile", ILE_CODONS, ILE_FIT, ILE_LOGIT, ILE_PTS, ILE_ERR)],
    [("Lys", LYS_CODONS, LYS_FIT, LYS_LOGIT, LYS_PTS, LYS_ERR),
     ("Leu", LEU_CODONS, LEU_FIT, LEU_LOGIT, LEU_PTS, LEU_ERR),
     ("Asn", ASN_CODONS, ASN_FIT, ASN_LOGIT, ASN_PTS, ASN_ERR),
     ("Pro", PRO_CODONS, PRO_FIT, PRO_LOGIT, PRO_PTS, PRO_ERR)],
    [("Gln", GLN_CODONS, GLN_FIT, GLN_LOGIT, GLN_PTS, GLN_ERR),
     ("Arg", ARG_CODONS, ARG_FIT, ARG_LOGIT, ARG_PTS, ARG_ERR),
     ("Ser\u2084", SER4_CODONS, SER4_FIT, SER4_LOGIT, SER4_PTS, SER4_ERR),
     ("Ser\u2082", SER2_CODONS, SER2_FIT, SER2_LOGIT, SER2_PTS, SER2_ERR)],
    [("Thr", THR_CODONS, THR_FIT, THR_LOGIT, THR_PTS, THR_ERR),
     ("Val", VAL_CODONS, VAL_FIT, VAL_LOGIT, VAL_PTS, VAL_ERR),
     ("Tyr", TYR_CODONS, TYR_FIT, TYR_LOGIT, TYR_PTS, TYR_ERR),
     None],
]

# ---------------- layout constants ----------------
FWS = [151, 150, 151, 151]
FHS = [153, 153, 152, 153, 153]
BL, BR, BT, BB = 48, 41, 38, 20
XMIN, XMAX = -1.32, 1.35
LEG_ROW, LEG_PAD, LEG_TOP = 11, 4, 5


def codon_color(codon):
    c = codon[:3]
    if c in ("TTA", "AGA"):
        return CYAN
    if c in ("TTG", "AGG"):
        return PINK
    return {"A": BLUE, "C": ORANGE, "G": PURPLE, "T": GREEN}[c[2]]


def style_axis(ax, labeled):
    ax.axis_line_color = None
    ax.minor_tick_line_color = None
    ax.major_tick_line_color = "black"
    ax.major_tick_line_width = 1
    if labeled:
        ax.major_tick_out = 5
        ax.major_tick_in = 3
        ax.major_label_text_font = FONT
        ax.major_label_text_font_style = "bold"
        ax.major_label_text_font_size = "8px"
        ax.major_label_standoff = 2
    else:
        ax.major_tick_out = 0
        ax.major_tick_in = 3
        ax.major_label_text_font_size = "0px"
        ax.major_label_text_color = None
        ax.major_label_standoff = 0


def new_fig(r, c, y_range):
    return figure(frame_width=FWS[c], frame_height=FHS[r],
                  x_range=Range1d(XMIN, XMAX), y_range=y_range,
                  x_axis_type=None, y_axis_type=None,
                  output_backend="svg", toolbar_location=None,
                  min_border_left=BL if c == 0 else 0,
                  min_border_right=BR if c == 3 else 0,
                  min_border_top=BT if r == 0 else 0,
                  min_border_bottom=BB if r == 4 else 0,
                  background_fill_color="white", border_fill_color="white")


def codon_panel(r, c, spec):
    name, codons, fit, logit, pts, err = spec
    p = new_fig(r, c, Range1d(-0.04, 1.04))
    p.outline_line_color = "black"
    p.outline_line_width = 1
    p.outline_line_alpha = 1

    for side in ("above", "below", "left", "right"):
        labeled = ((side == "above" and r == 0) or (side == "below" and r == 4) or
                   (side == "left" and c == 0) or (side == "right" and c == 3))
        if side in ("above", "below"):
            ax = LinearAxis(ticker=FixedTicker(ticks=X_TICKS))
            if labeled:
                ax.major_label_overrides = dict(zip(X_TICKS, X_TICK_LABELS))
        else:
            ax = LinearAxis(ticker=FixedTicker(ticks=Y_TICKS),
                            formatter=PrintfTickFormatter(format="%.1f"))
        style_axis(ax, labeled)
        if side == "left" and c == 0 and r == 2:
            ax.axis_label = "Codon Frequency"
            ax.axis_label_text_font = FONT
            ax.axis_label_text_font_style = "bold"
            ax.axis_label_text_font_size = "12px"
            ax.axis_label_standoff = 7
        p.add_layout(ax, side)

    colors = [codon_color(cd) for cd in codons]
    for k in range(len(codons)):
        lo = [max(0.0, v - e) for v, e in zip(pts[k], err[k])]
        hi = [min(1.0, v + e) for v, e in zip(pts[k], err[k])]
        p.segment(x0=BIN_X, y0=lo, x1=BIN_X, y1=hi, line_color=colors[k],
                  line_width=2.2, line_alpha=0.62)
    for k in range(len(codons)):
        p.line(FIT_X, logit[k], line_color=colors[k], line_width=1.4,
               line_dash="2 3", line_alpha=0.9)
    fit_r, pt_r = [], []
    for k in range(len(codons)):
        fit_r.append(p.line(FIT_X, fit[k], line_color=colors[k], line_width=1.8))
    for k in range(len(codons)):
        pt_r.append(p.scatter(BIN_X, pts[k], marker="circle", size=5,
                              fill_color=colors[k], line_color=colors[k]))

    items = [LegendItem(label=codons[k], renderers=[fit_r[k], pt_r[k]])
             for k in range(len(codons))]
    leg_h = len(codons) * LEG_ROW + 2 * LEG_PAD
    leg = Legend(items=items, location=(1, FHS[r] - LEG_TOP - leg_h),
                 background_fill_alpha=0, border_line_color=None,
                 label_text_font=FONT, label_text_font_style="bold",
                 label_text_font_size="9px", glyph_width=18, glyph_height=LEG_ROW,
                 label_height=LEG_ROW, spacing=0, padding=LEG_PAD, margin=0,
                 label_standoff=7)
    p.add_layout(leg)

    p.add_layout(Label(x=(XMIN + XMAX) / 2, y=1.0, text=name,
                       text_align="center", text_baseline="top",
                       text_font=FONT, text_font_style="bold",
                       text_font_size="12px"))
    return p


def hist_panel(r, c):
    p = new_fig(r, c, Range1d(-21, 621))
    p.outline_line_color = None
    p.quad(left=HIST_EDGES[:-1], right=HIST_EDGES[1:], bottom=0, top=HIST_COUNTS,
           fill_color="white", line_color="black", line_width=1)

    bx = LinearAxis(ticker=FixedTicker(ticks=X_TICKS))
    bx.major_label_overrides = dict(zip(X_TICKS, X_TICK_LABELS))
    style_axis(bx, True)
    bx.major_tick_in = 0
    bx.axis_line_color = "black"
    bx.bounds = (-1.0, 1.0)
    p.add_layout(bx, "below")

    ry = LinearAxis(ticker=FixedTicker(ticks=HIST_TICKS))
    style_axis(ry, True)
    ry.major_tick_in = 0
    ry.axis_line_color = "black"
    ry.bounds = (0, 600)
    ry.axis_label = "Gene Count"
    ry.axis_label_text_font = FONT
    ry.axis_label_text_font_style = "bold"
    ry.axis_label_text_font_size = "13px"
    ry.axis_label_standoff = 4
    ry.axis_label_orientation = -math.pi / 2
    p.add_layout(ry, "right")

    r1 = p.line(x=[], y=[], line_color="black", line_width=1.2)
    r2 = p.line(x=[], y=[], line_color="black", line_width=1.2, line_dash="4 3")
    r3 = p.line(x=[], y=[], line_color="black", line_width=1.2, line_dash="1 2")
    leg = Legend(items=[LegendItem(label="Without \u03a6\u20d7", renderers=[r1]),
                        LegendItem(label="With \u03a6\u20d7", renderers=[r2]),
                        LegendItem(label="Logistic\nregression", renderers=[r3])],
                 location="top_right", title="Model Fit",
                 title_text_font=FONT, title_text_font_style="bold",
                 title_text_font_size="9px", title_standoff=3,
                 background_fill_alpha=0, border_line_color=None,
                 label_text_font="DejaVu Sans", label_text_font_style="bold",
                 label_text_font_size="8.5px", glyph_width=18, glyph_height=10,
                 label_height=10, spacing=0, padding=3, margin=5,
                 label_standoff=5)
    p.add_layout(leg)
    return p


rows = []
for r, row_specs in enumerate(PANEL_GRID):
    row = []
    for c, spec in enumerate(row_specs):
        row.append(codon_panel(r, c, spec) if spec is not None else hist_panel(r, c))
    rows.append(row)

grid = gridplot(rows, toolbar_location=None)

total_w = BL + sum(FWS) + BR
xl = figure(width=total_w, height=28, x_range=Range1d(0, total_w), y_range=Range1d(0, 28),
            x_axis_type=None, y_axis_type=None, output_backend="svg",
            toolbar_location=None, min_border=0, outline_line_color=None)
xl.add_layout(Label(x=BL + FWS[0] + FWS[1], y=13,
                    text="log\u2081\u2080(Protein Synthesis Rate \u03c6\u0302)",
                    text_align="center", text_baseline="middle", text_font=FONT,
                    text_font_style="bold", text_font_size="13px"))

layout = column(grid, xl)
open("out.html", "w").write(file_html(layout, INLINE))
